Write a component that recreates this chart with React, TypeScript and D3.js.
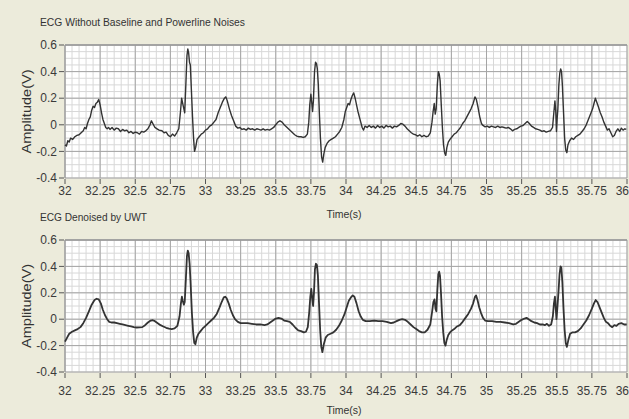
import React, { useEffect } from 'react';
import * as d3 from 'd3';

// time (s) tick labels and amplitude ticks
const timeTicks = [32, 32.25, 32.5, 32.75, 33, 33.25, 33.5, 33.75, 34, 34.25, 34.5, 34.75, 35, 35.25, 35.5, 35.75, 36];
const ampTicks = [0.6, 0.4, 0.2, 0, -0.2, -0.4];

// ECG without baseline and powerline noise: [time, amplitude]
const noisyEcg: [number, number][] = [
  [32.0, -0.15], [32.01, -0.16], [32.02, -0.12], [32.03, -0.13], [32.04, -0.1], [32.055, -0.11], [32.07, -0.09],
  [32.085, -0.08], [32.1, -0.075], [32.115, -0.06], [32.13, -0.045], [32.14, -0.02], [32.15, -0.03], [32.16, 0.01],
  [32.17, 0.04], [32.18, 0.06], [32.19, 0.11], [32.2, 0.14], [32.21, 0.13], [32.22, 0.16], [32.23, 0.17],
  [32.24, 0.19], [32.25, 0.15], [32.26, 0.09], [32.27, 0.04], [32.28, 0.01], [32.29, -0.02], [32.3, -0.03],
  [32.31, -0.02], [32.32, -0.035], [32.335, -0.02], [32.35, -0.04], [32.365, -0.025], [32.38, -0.03],
  [32.395, -0.05], [32.41, -0.035], [32.425, -0.045], [32.44, -0.04], [32.455, -0.06], [32.47, -0.05],
  [32.485, -0.065], [32.5, -0.055], [32.515, -0.06], [32.53, -0.07], [32.545, -0.05], [32.56, -0.055],
  [32.575, -0.045], [32.59, -0.03], [32.605, 0.0], [32.615, 0.03], [32.625, 0.01], [32.64, -0.02], [32.655, -0.03],
  [32.67, -0.04], [32.69, -0.045], [32.705, -0.06], [32.72, -0.055], [32.735, -0.08], [32.75, -0.09],
  [32.765, -0.07], [32.78, -0.085], [32.795, -0.06], [32.81, -0.03], [32.822, 0.1], [32.83, 0.2], [32.838, 0.16],
  [32.846, 0.12], [32.852, 0.09], [32.86, 0.3], [32.868, 0.52], [32.874, 0.57], [32.88, 0.54], [32.886, 0.47],
  [32.892, 0.45], [32.9, 0.25], [32.908, 0.05], [32.915, -0.1], [32.922, -0.2], [32.93, -0.17], [32.94, -0.11],
  [32.955, -0.09], [32.97, -0.07], [32.985, -0.06], [33.0, -0.04], [33.015, -0.03], [33.03, -0.01], [33.045, 0.0],
  [33.06, 0.02], [33.075, 0.04], [33.09, 0.09], [33.105, 0.13], [33.12, 0.17], [33.135, 0.2], [33.145, 0.21],
  [33.155, 0.18], [33.17, 0.12], [33.185, 0.07], [33.2, 0.03], [33.215, -0.01], [33.23, -0.025], [33.245, -0.02],
  [33.26, -0.035], [33.275, -0.03], [33.29, -0.04], [33.305, -0.025], [33.32, -0.035], [33.335, -0.03],
  [33.35, -0.04], [33.365, -0.03], [33.38, -0.035], [33.395, -0.04], [33.41, -0.03], [33.425, -0.04],
  [33.44, -0.035], [33.455, -0.04], [33.47, -0.03], [33.485, -0.02], [33.5, 0.0], [33.515, 0.02], [33.53, 0.03],
  [33.545, 0.02], [33.56, 0.0], [33.575, -0.015], [33.59, -0.03], [33.605, -0.045], [33.62, -0.06],
  [33.635, -0.075], [33.65, -0.085], [33.665, -0.09], [33.68, -0.09], [33.695, -0.095], [33.71, -0.09],
  [33.725, -0.07], [33.735, 0.02], [33.742, 0.15], [33.75, 0.23], [33.756, 0.17], [33.762, 0.1], [33.768, 0.18],
  [33.776, 0.4], [33.783, 0.47], [33.79, 0.46], [33.796, 0.42], [33.803, 0.3], [33.81, 0.1], [33.818, -0.1],
  [33.826, -0.24], [33.834, -0.28], [33.842, -0.22], [33.852, -0.17], [33.865, -0.14], [33.88, -0.12],
  [33.895, -0.11], [33.91, -0.1], [33.925, -0.09], [33.94, -0.07], [33.955, -0.05], [33.97, -0.02], [33.985, 0.04],
  [33.995, 0.1], [34.005, 0.13], [34.015, 0.16], [34.025, 0.15], [34.035, 0.19], [34.045, 0.22], [34.055, 0.24],
  [34.065, 0.2], [34.075, 0.15], [34.085, 0.1], [34.095, 0.06], [34.105, 0.02], [34.115, -0.02], [34.125, -0.04],
  [34.135, -0.01], [34.15, -0.02], [34.165, -0.005], [34.18, -0.02], [34.195, -0.01], [34.21, -0.025],
  [34.225, -0.005], [34.24, -0.02], [34.255, -0.01], [34.27, -0.025], [34.285, -0.005], [34.3, -0.015],
  [34.315, -0.01], [34.33, -0.025], [34.345, -0.01], [34.36, -0.015], [34.375, -0.005], [34.39, 0.01],
  [34.405, 0.005], [34.42, -0.01], [34.435, -0.03], [34.45, -0.045], [34.465, -0.06], [34.48, -0.07],
  [34.495, -0.075], [34.51, -0.085], [34.525, -0.075], [34.54, -0.09], [34.555, -0.08], [34.57, -0.09],
  [34.585, -0.085], [34.6, -0.06], [34.612, 0.02], [34.62, 0.1], [34.628, 0.16], [34.635, 0.08], [34.642, 0.12],
  [34.65, 0.3], [34.657, 0.4], [34.664, 0.38], [34.67, 0.33], [34.678, 0.15], [34.686, -0.02], [34.694, -0.15],
  [34.702, -0.21], [34.71, -0.23], [34.718, -0.17], [34.728, -0.13], [34.74, -0.11], [34.755, -0.09],
  [34.77, -0.07], [34.785, -0.06], [34.8, -0.04], [34.815, -0.02], [34.83, 0.01], [34.845, 0.03], [34.86, 0.06],
  [34.875, 0.09], [34.89, 0.12], [34.905, 0.16], [34.918, 0.21], [34.928, 0.19], [34.94, 0.13], [34.952, 0.06],
  [34.964, 0.01], [34.975, -0.005], [34.99, -0.015], [35.005, -0.01], [35.02, -0.02], [35.035, -0.01],
  [35.05, -0.015], [35.065, -0.02], [35.08, -0.01], [35.095, -0.02], [35.11, -0.015], [35.125, -0.02],
  [35.14, -0.025], [35.155, -0.02], [35.17, -0.03], [35.185, -0.045], [35.2, -0.035], [35.215, -0.03],
  [35.23, -0.02], [35.245, -0.01], [35.26, -0.005], [35.275, 0.01], [35.29, 0.025], [35.305, 0.01],
  [35.32, -0.01], [35.335, -0.02], [35.35, -0.03], [35.365, -0.035], [35.38, -0.04], [35.395, -0.05],
  [35.41, -0.045], [35.425, -0.055], [35.44, -0.05], [35.455, -0.045], [35.47, -0.02], [35.48, 0.1],
  [35.487, 0.18], [35.493, 0.1], [35.498, -0.05], [35.503, 0.05], [35.508, 0.12], [35.515, 0.3], [35.522, 0.39],
  [35.528, 0.42], [35.534, 0.4], [35.54, 0.3], [35.548, 0.1], [35.556, -0.1], [35.564, -0.19], [35.572, -0.21],
  [35.58, -0.15], [35.592, -0.12], [35.605, -0.1], [35.62, -0.11], [35.635, -0.09], [35.65, -0.08],
  [35.665, -0.07], [35.68, -0.05], [35.695, -0.03], [35.71, 0.0], [35.725, 0.04], [35.74, 0.08], [35.755, 0.12],
  [35.765, 0.16], [35.775, 0.2], [35.785, 0.17], [35.795, 0.14], [35.81, 0.09], [35.822, 0.06], [35.835, 0.02],
  [35.848, -0.01], [35.86, -0.04], [35.872, -0.03], [35.885, -0.06], [35.898, -0.09], [35.91, -0.08],
  [35.922, -0.05], [35.935, -0.03], [35.948, -0.05], [35.96, -0.025], [35.972, -0.04], [35.985, -0.03],
  [35.995, -0.035],
];

// ECG denoised by UWT: [time, amplitude]
const denoisedEcg: [number, number][] = [
  [32.0, -0.17], [32.015, -0.14], [32.03, -0.11], [32.05, -0.095], [32.07, -0.085], [32.09, -0.075],
  [32.11, -0.06], [32.13, -0.03], [32.15, 0.01], [32.17, 0.06], [32.19, 0.11], [32.21, 0.145], [32.225, 0.155],
  [32.24, 0.15], [32.255, 0.12], [32.27, 0.07], [32.285, 0.03], [32.3, 0.0], [32.315, -0.02], [32.33, -0.025],
  [32.35, -0.025], [32.37, -0.03], [32.39, -0.035], [32.41, -0.04], [32.43, -0.045], [32.45, -0.05],
  [32.47, -0.055], [32.49, -0.06], [32.51, -0.063], [32.53, -0.062], [32.55, -0.06], [32.57, -0.045],
  [32.59, -0.025], [32.61, -0.01], [32.625, -0.008], [32.64, -0.015], [32.66, -0.03], [32.68, -0.045],
  [32.7, -0.055], [32.72, -0.065], [32.74, -0.072], [32.76, -0.075], [32.78, -0.07], [32.8, -0.05],
  [32.815, 0.02], [32.825, 0.12], [32.832, 0.17], [32.838, 0.14], [32.846, 0.11], [32.852, 0.13], [32.86, 0.3],
  [32.868, 0.48], [32.874, 0.52], [32.88, 0.5], [32.887, 0.42], [32.895, 0.25], [32.903, 0.05], [32.912, -0.1],
  [32.92, -0.18], [32.928, -0.19], [32.938, -0.14], [32.95, -0.11], [32.965, -0.09], [32.98, -0.07],
  [33.0, -0.05], [33.02, -0.03], [33.04, -0.01], [33.06, 0.01], [33.08, 0.04], [33.1, 0.09], [33.115, 0.13],
  [33.13, 0.165], [33.14, 0.17], [33.15, 0.16], [33.165, 0.12], [33.18, 0.07], [33.195, 0.03], [33.21, 0.0],
  [33.23, -0.02], [33.25, -0.03], [33.27, -0.03], [33.3, -0.03], [33.33, -0.035], [33.36, -0.04], [33.39, -0.04],
  [33.42, -0.045], [33.44, -0.04], [33.46, -0.025], [33.48, -0.01], [33.5, 0.005], [33.52, 0.01],
  [33.54, 0.005], [33.56, -0.01], [33.58, -0.015], [33.6, -0.02], [33.62, -0.04], [33.64, -0.065],
  [33.66, -0.085], [33.68, -0.09], [33.7, -0.1], [33.715, -0.095], [33.728, -0.06], [33.738, 0.05],
  [33.746, 0.17], [33.753, 0.23], [33.76, 0.15], [33.766, 0.1], [33.772, 0.2], [33.779, 0.38], [33.786, 0.42],
  [33.793, 0.41], [33.8, 0.33], [33.808, 0.12], [33.816, -0.08], [33.824, -0.21], [33.832, -0.25],
  [33.842, -0.19], [33.855, -0.14], [33.87, -0.12], [33.89, -0.11], [33.91, -0.1], [33.93, -0.08],
  [33.95, -0.05], [33.97, -0.01], [33.99, 0.04], [34.005, 0.09], [34.02, 0.14], [34.035, 0.165], [34.048, 0.18],
  [34.06, 0.17], [34.075, 0.12], [34.09, 0.06], [34.105, 0.02], [34.12, -0.005], [34.14, -0.015],
  [34.17, -0.015], [34.2, -0.01], [34.23, -0.015], [34.26, -0.015], [34.29, -0.02], [34.32, -0.03],
  [34.34, -0.025], [34.36, -0.015], [34.38, -0.005], [34.4, 0.0], [34.42, -0.005], [34.44, -0.02],
  [34.46, -0.04], [34.48, -0.06], [34.5, -0.075], [34.52, -0.09], [34.54, -0.1], [34.56, -0.1], [34.58, -0.08],
  [34.6, -0.04], [34.612, 0.05], [34.622, 0.13], [34.63, 0.15], [34.637, 0.08], [34.643, 0.06], [34.65, 0.22],
  [34.657, 0.34], [34.663, 0.36], [34.669, 0.33], [34.676, 0.2], [34.684, 0.02], [34.692, -0.1], [34.7, -0.18],
  [34.708, -0.2], [34.716, -0.16], [34.728, -0.12], [34.74, -0.1], [34.755, -0.085], [34.77, -0.075],
  [34.79, -0.055], [34.81, -0.045], [34.83, -0.02], [34.85, 0.01], [34.87, 0.04], [34.89, 0.08], [34.905, 0.12],
  [34.918, 0.17], [34.926, 0.18], [34.935, 0.15], [34.948, 0.09], [34.96, 0.05], [34.975, 0.01], [34.99, -0.01],
  [35.01, -0.015], [35.04, -0.015], [35.07, -0.02], [35.1, -0.02], [35.13, -0.025], [35.16, -0.03],
  [35.19, -0.04], [35.21, -0.035], [35.23, -0.02], [35.25, -0.005], [35.27, 0.005], [35.285, 0.01], [35.3, 0.0],
  [35.32, -0.015], [35.34, -0.025], [35.36, -0.03], [35.38, -0.04], [35.4, -0.04], [35.415, -0.045],
  [35.43, -0.035], [35.445, -0.05], [35.46, -0.04], [35.472, 0.02], [35.48, 0.12], [35.487, 0.17],
  [35.493, 0.08], [35.498, 0.0], [35.504, 0.08], [35.512, 0.2], [35.52, 0.34], [35.527, 0.4], [35.533, 0.39],
  [35.54, 0.28], [35.548, 0.08], [35.556, -0.08], [35.564, -0.18], [35.572, -0.21], [35.582, -0.16],
  [35.595, -0.11], [35.61, -0.1], [35.63, -0.1], [35.65, -0.09], [35.67, -0.07], [35.69, -0.04], [35.71, -0.01],
  [35.73, 0.03], [35.75, 0.08], [35.765, 0.12], [35.777, 0.145], [35.79, 0.13], [35.805, 0.09], [35.82, 0.05],
  [35.835, 0.01], [35.85, -0.02], [35.865, -0.03], [35.88, -0.05], [35.895, -0.06], [35.91, -0.045],
  [35.925, -0.05], [35.94, -0.035], [35.96, -0.03], [35.98, -0.04], [35.998, -0.04],
];

const W = 629;
const H = 419;
const FONT = '"Liberation Sans", Arial, sans-serif';

type PanelProps = {
  title: string;
  titleWidth: number;
  data: [number, number][];
  top: number;
  bottom: number;
  titleY: number;
  tickY: number;
  labelY: number;
  strokeWidth: number;
};

const Panel = ({ title, titleWidth, data, top, bottom, titleY, tickY, labelY, strokeWidth }: PanelProps) => {
  const x = d3.scaleLinear().domain([32, 36]).range([65, 627]);
  const y = d3.scaleLinear().domain([-0.4, 0.6]).range([bottom, top]);

  const minorX = d3.range(32, 36.0001, 0.05);
  const minorY = d3.range(-0.4, 0.6001, 0.05);

  const line = d3.line<[number, number]>()
    .x(d => x(d[0]))
    .y(d => y(d[1]));

  return (
    <g>
      <text x={40} y={titleY} fontSize={10.5} fill="#333" fontFamily={FONT}
        textLength={titleWidth} lengthAdjust="spacingAndGlyphs">{title}</text>
      <rect x={65} y={top} width={562} height={bottom - top} fill="#fff" />
      {minorX.map((t, i) => (
        <line key={'mx' + i} x1={x(t)} x2={x(t)} y1={top} y2={bottom} stroke="#d8d8d8" strokeWidth={1} />
      ))}
      {minorY.map((v, i) => (
        <line key={'my' + i} x1={65} x2={627} y1={y(v)} y2={y(v)} stroke="#d8d8d8" strokeWidth={1} />
      ))}
      {timeTicks.map(t => (
        <line key={'gx' + t} x1={x(t)} x2={x(t)} y1={top} y2={bottom} stroke="#a5a5a5" strokeWidth={1} />
      ))}
      {ampTicks.map(v => (
        <line key={'gy' + v} x1={65} x2={627} y1={y(v)} y2={y(v)} stroke="#a5a5a5" strokeWidth={1} />
      ))}
      <line x1={65} x2={627} y1={top} y2={top} stroke="#999" strokeWidth={1.3} />
      <line x1={65} x2={65} y1={top} y2={bottom} stroke="#999" strokeWidth={1} />
      <path d={line(data) || ''} fill="none" stroke="#333" strokeWidth={strokeWidth} strokeLinejoin="round" />
      {ampTicks.map(v => (
        <g key={'ty' + v}>
          <line x1={59} x2={64} y1={y(v)} y2={y(v)} stroke="#555" />
          <text x={57} y={y(v)} dy="0.35em" textAnchor="end" fontSize={12} fill="#3a3a3a" fontFamily={FONT}>{String(v)}</text>
        </g>
      ))}
      {timeTicks.map((t, i) => (
        <g key={'tx' + t}>
          <line x1={x(t)} x2={x(t)} y1={bottom + 1} y2={bottom + 6} stroke="#555" />
          <text x={i === timeTicks.length - 1 ? W : x(t)} y={tickY} dy="0.35em"
            textAnchor={i === timeTicks.length - 1 ? 'end' : 'middle'}
            fontSize={12} fill="#3a3a3a" fontFamily={FONT}>{String(t)}</text>
        </g>
      ))}
      <text x={344} y={labelY} dy="0.35em" textAnchor="middle" fontSize={10.5} fill="#333" fontFamily={FONT}>Time(s)</text>
      <text transform={`translate(27,${(top + bottom) / 2}) rotate(-90)`} dy="0.35em" textAnchor="middle"
        fontSize={12} fill="#333" fontFamily={FONT} textLength={84} lengthAdjust="spacingAndGlyphs">Amplitude(V)</text>
    </g>
  );
};

const App = () => {
  useEffect(() => {
    document.body.style.margin = '0';
  }, []);

  return (
    <svg width={W} height={H} style={{ display: 'block', position: 'absolute', left: 0, top: 0 }}>
      <rect width={W} height={H} fill="#ecebdb" />
      <Panel title="ECG Without Baseline and Powerline Noises" titleWidth={205} data={noisyEcg} top={45} bottom={178}
        titleY={26} tickY={191} labelY={214} strokeWidth={1.4} />
      <Panel title="ECG Denoised by UWT" titleWidth={107} data={denoisedEcg} top={240} bottom={372}
        titleY={221} tickY={391} labelY={410} strokeWidth={1.8} />
    </svg>
  );
};

export default App;
